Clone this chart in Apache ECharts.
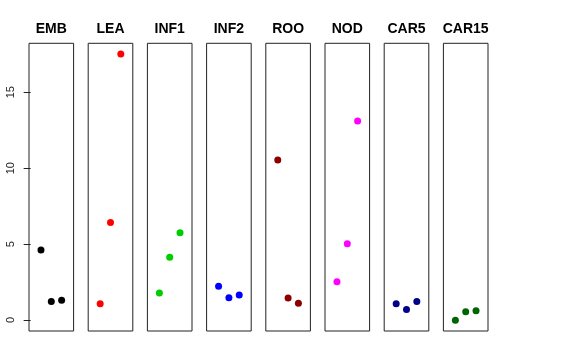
<!DOCTYPE html>
<html><head><meta charset="utf-8">
<script src="https://cdn.jsdelivr.net/npm/echarts@6/dist/echarts.min.js"></script>
<style>html,body{margin:0;padding:0;background:#fff}#c{width:576px;height:360px}</style>
</head><body><div id="c"></div>
<script>
const categories = ['EMB','LEA','INF1','INF2','ROO','NOD','CAR5','CAR15'];
const colors = ['#000000','#FF0000','#00CD00','#0000FF','#8B0000','#FF00FF','#00008B','#006400'];
const xPositions = [1,2,3];
const EMB = [4.61, 1.23, 1.30];
const LEA = [1.08, 6.43, 17.52];
const INF1 = [1.78, 4.13, 5.75];
const INF2 = [2.22, 1.47, 1.65];
const ROO = [10.54, 1.45, 1.10];
const NOD = [2.52, 5.03, 13.11];
const CAR5 = [1.08, 0.70, 1.23];
const CAR15 = [-0.02, 0.55, 0.61];
const yTicks = [0, 5, 10, 15];
const values = [EMB, LEA, INF1, INF2, ROO, NOD, CAR5, CAR15];

const yMin = -0.72, yMax = 18.22;
const panelLeft0 = 29, panelStep = 59.2, panelW = 44.6, gridTop = 43.3, gridBottom = 29;

const grids = [], xAxes = [], yAxes = [], series = [], graphics = [];
categories.forEach((name, i) => {
  const left = panelLeft0 + i * panelStep;
  grids.push({left: left, width: panelW, top: gridTop, bottom: gridBottom,
    show: true, borderColor: '#222', borderWidth: 1, backgroundColor: 'transparent'});
  xAxes.push({gridIndex: i, type: 'value', min: -0.16, max: 4.16, show: false});
  const y = {gridIndex: i, type: 'value', min: yMin, max: yMax,
    splitLine: {show: false}, axisLine: {show: false}};
  if (i === 0) {
    y.axisTick = {show: true, length: 7, lineStyle: {color: '#222'}, customValues: yTicks};
    y.axisLabel = {show: true, rotate: 90, margin: 13, fontSize: 11, color: '#222',
      fontFamily: 'Liberation Sans, Arial, sans-serif', customValues: yTicks};
  } else {
    y.axisTick = {show: false};
    y.axisLabel = {show: false};
  }
  yAxes.push(y);
  series.push({type: 'scatter', xAxisIndex: i, yAxisIndex: i, symbol: 'circle', symbolSize: 7,
    itemStyle: {color: colors[i], opacity: 1},
    data: xPositions.map((x, k) => [x, values[i][k]]), animation: false});
  graphics.push({type: 'text', x: left + panelW / 2, y: 29.5,
    style: {text: name, align: 'center', verticalAlign: 'middle', fontSize: 14, fontWeight: 'bold',
      fontFamily: 'Liberation Sans, Arial, sans-serif', fill: '#000'}});
});

const chart = echarts.init(document.getElementById('c'), null, {renderer: 'canvas'});
chart.setOption({animation: false, grid: grids, xAxis: xAxes, yAxis: yAxes, series: series, graphic: graphics});
</script></body></html>
